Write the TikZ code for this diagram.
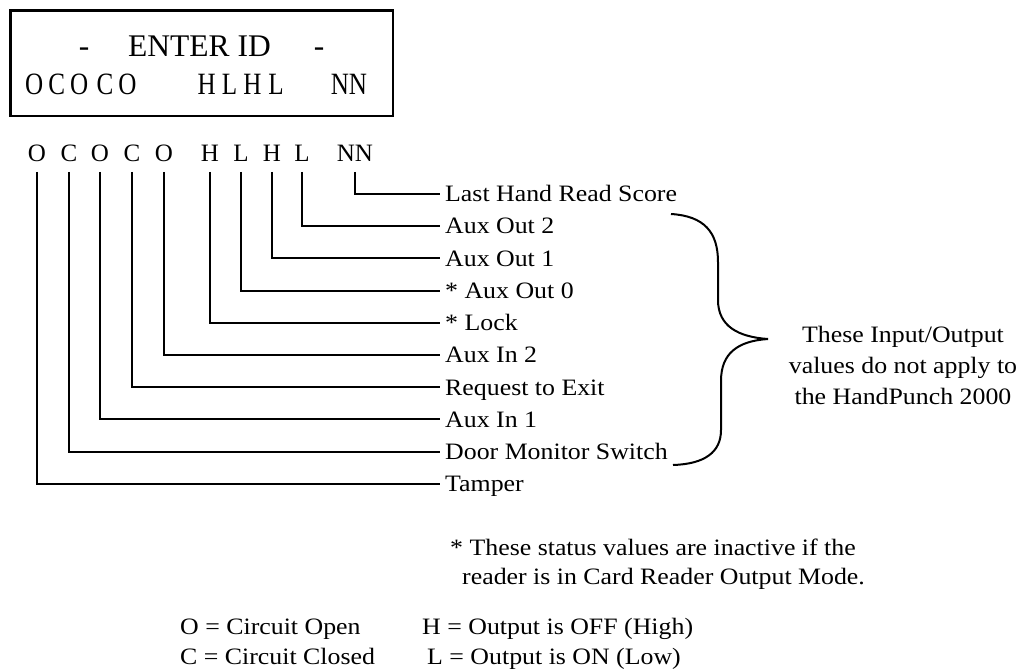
\documentclass[tikz,border=0pt]{standalone}
\usepackage{fontspec}
\setmainfont{Liberation Serif}
\newfontfamily\lblfam[FakeStretch=1.1]{Liberation Serif}
\newfontfamily\condfam[FakeStretch=0.81]{Liberation Serif}
\begin{document}
\begin{tikzpicture}[x=1pt,y=-1pt,
  boxfont/.style={font=\fontsize{31.5}{36}\selectfont},
  condfont/.style={font=\condfam\fontsize{31}{36}\selectfont},
  letterfont/.style={font=\fontsize{25}{30}\selectfont},
  lblfont/.style={font=\lblfam\fontsize{23.5}{31}\selectfont},
  letter/.style={letterfont,anchor=base,inner sep=0pt},
  dl/.style={condfont,anchor=base,inner sep=0pt},
  lbl/.style={lblfont,anchor=west,inner xsep=5pt,inner ysep=0pt,text height=15.6pt,text depth=0pt},
  wire/.style={line width=2pt,line cap=butt,line join=miter},
  note/.style={lblfont,anchor=base west,inner sep=0pt}]
\useasboundingbox (0,0) rectangle (1026,671);
% display box
\node[draw,line width=2.5pt,minimum width=382.5pt,minimum height=105.5pt,inner sep=0pt] (box) at (201.75,63.25) {};
\node[boxfont,anchor=base,inner sep=0pt] (d1) at (84,57) {-};
\node[boxfont,anchor=base west,inner sep=0pt] (enter) at (128,57) {ENTER ID};
\node[boxfont,anchor=base,inner sep=0pt] (d2) at (319,57) {-};
\node[dl] (b1) at (34.2,94.5) {O};
\node[dl] (b2) at (56.7,94.5) {C};
\node[dl] (b3) at (79.2,94.5) {O};
\node[dl] (b4) at (105,94.5) {C};
\node[dl] (b5) at (127.5,94.5) {O};
\node[dl] (b6) at (206.7,94.5) {H};
\node[dl] (b7) at (229.5,94.5) {L};
\node[dl] (b8) at (252.5,94.5) {H};
\node[dl] (b9) at (276,94.5) {L};
\node[dl] (b10) at (349,94.5) {NN};
% letter row
\node[letter] (l1) at (37,162) {O};
\node[letter] (l2) at (69,162) {C};
\node[letter] (l3) at (100,162) {O};
\node[letter] (l4) at (132,162) {C};
\node[letter] (l5) at (164,162) {O};
\node[letter] (l6) at (210,162) {H};
\node[letter] (l7) at (241,162) {L};
\node[letter] (l8) at (272,162) {H};
\node[letter] (l9) at (302,162) {L};
\node[letter] (l10) at (355,162) {NN};
% labels
\node[lbl] (t10) at (440,194) {Last Hand Read Score};
\node[lbl] (t9) at (440,226.2) {Aux Out 2};
\node[lbl] (t8) at (440,258.4) {Aux Out 1};
\node[lbl] (t7) at (440,290.6) {* Aux Out 0};
\node[lbl] (t6) at (440,322.8) {* Lock};
\node[lbl] (t5) at (440,355) {Aux In 2};
\node[lbl] (t4) at (440,387.2) {Request to Exit};
\node[lbl] (t3) at (440,419.4) {Aux In 1};
\node[lbl] (t2) at (440,451.6) {Door Monitor Switch};
\node[lbl] (t1) at (440,483.8) {Tamper};
% wires
\foreach \i in {1,...,10} {
  \draw[wire] ([yshift=-10pt]l\i.base) |- (t\i.west);
}
% brace
\coordinate (bt) at (671,214);
\coordinate (bm) at (768,339);
\coordinate (bb) at (673,465);
\draw[line width=2pt] (bt) .. controls (704,216) and (718,232) .. (718,262)
  -- (718,300) .. controls (718,326) and (738,337) .. (bm)
  .. controls (738,341) and (721,353) .. (721,381)
  -- (721,430) .. controls (721,452) and (705,464) .. (bb);
\node[lblfont,align=center,inner sep=0pt] (expl) at (903,365) {These Input/Output\\values do not apply to\\the HandPunch 2000};
% notes
\node[note] (n1) at (450,555) {* These status values are inactive if the};
\node[note] (n2) at (462,584) {reader is in Card Reader Output Mode.};
\node[note] (k1) at (180,634) {O = Circuit Open};
\node[note] (k2) at (180,664) {C = Circuit Closed};
\node[note] (k3) at (422,634) {H = Output is OFF (High)};
\node[note] (k4) at (427,664) {L = Output is ON (Low)};
\end{tikzpicture}
\end{document}
